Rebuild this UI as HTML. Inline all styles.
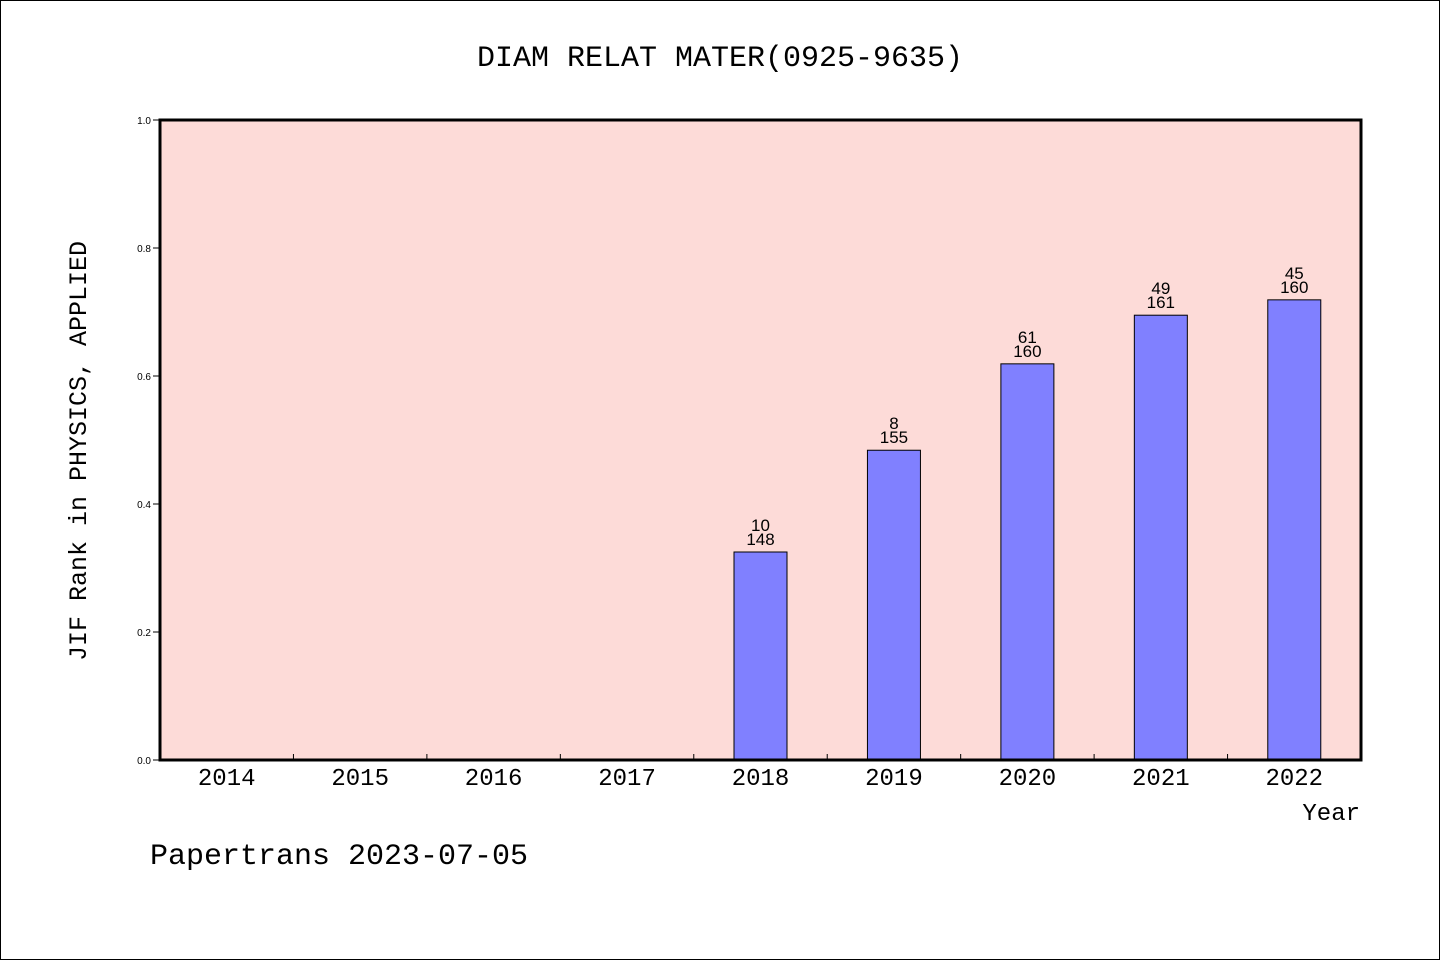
<!DOCTYPE html>
<html><head><meta charset="utf-8"><style>
body{margin:0;background:#fff}
svg text{font-family:"Liberation Mono",monospace;fill:#000}
svg text.s{font-family:"Liberation Sans",sans-serif}
</style></head><body>
<svg id="c" width="1440" height="960" xmlns="http://www.w3.org/2000/svg">
<rect x="0.5" y="0.5" width="1439" height="959" fill="#fff" stroke="#000"/>
<text x="720" y="66" font-size="30" text-anchor="middle">DIAM RELAT MATER(0925-9635)</text>
<rect x="160" y="120" width="1201" height="640" fill="#fddbd8"/>
<g id="marks"></g>
<rect x="160" y="120" width="1201" height="640" fill="none" stroke="#000" stroke-width="3"/>
<text transform="translate(86,451) rotate(-90)" font-size="25" text-anchor="middle">JIF Rank in PHYSICS, APPLIED</text>
<text x="1360" y="820" font-size="24" text-anchor="end">Year</text>
<text x="150" y="864" font-size="30">Papertrans 2023-07-05</text>
</svg>
<script>
const years=["2014","2015","2016","2017","2018","2019","2020","2021","2022"];
const values=[null,null,null,null,0.325,0.484,0.619,0.695,0.719];
const ranks=["","","","","10","8","61","49","45"];
const totals=["","","","","148","155","160","161","160"];
const yTicks=[0,0.2,0.4,0.6,0.8,1.0];
const X0=160,X1=1361,Y0=760,Y1=120;
const step=(X1-X0)/years.length;
const xc=i=>X0+step*(i+0.5);
const y=v=>Y0-(Y0-Y1)*v;
const NS="http://www.w3.org/2000/svg";
const g=document.getElementById('marks');
function mk(t,a){const e=document.createElementNS(NS,t);for(const k in a)e.setAttribute(k,a[k]);g.appendChild(e);return e;}
yTicks.forEach(v=>{
  const l=mk('line',{x1:153,x2:160,y1:y(v),y2:y(v),stroke:'#000'});
  
  
  const t=mk('text',{x:151,y:y(v)+4,'font-size':10,'text-anchor':'end','class':'s'});
  t.textContent=v.toFixed(1);
  
  
});
years.forEach((yr,i)=>{
  if(i>0){const l=mk('line',{x1:X0+step*i,x2:X0+step*i,y1:Y0,y2:Y0-6,stroke:'#000'});
  
  }
  const t=mk('text',{x:xc(i),y:785,'font-size':24,'text-anchor':'middle'});
  t.textContent=yr;
  
  
  const v=values[i];
  if(v!=null){
    const b=mk('rect',{x:xc(i)-26.5,y:y(v),width:53,height:Y0-y(v),fill:'#8080ff',stroke:'#000','stroke-width':1});
    
    
    const a=mk('text',{x:xc(i),y:y(v)-21,'font-size':17,'text-anchor':'middle','class':'s'});
    a.textContent=ranks[i];
    
    
    const c=mk('text',{x:xc(i),y:y(v)-7,'font-size':17,'text-anchor':'middle','class':'s'});
    c.textContent=totals[i];
    
    
  }
});
</script>
</body></html>
